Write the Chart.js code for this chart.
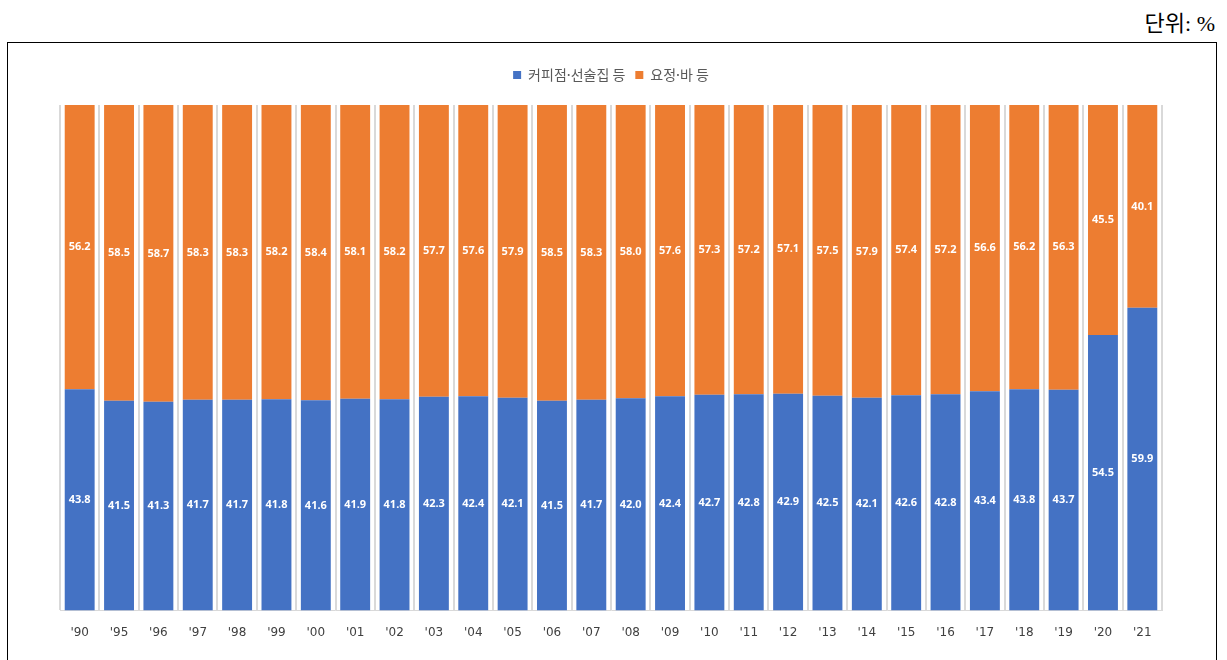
<!DOCTYPE html>
<html lang="ko">
<head>
<meta charset="utf-8">
<script src="https://cdn.jsdelivr.net/npm/chart.js@4/dist/chart.umd.min.js"></script>
<style>
  html, body { margin: 0; padding: 0; background: #fff; overflow: hidden; }
  #unit {
    position: absolute; right: 12px; top: 5px;
    font-family: "Liberation Serif", "Noto Sans CJK KR", serif;
    font-size: 22px; color: #000;
  }
  #frame {
    position: absolute; left: 7px; top: 42px; width: 1208px; height: 640px;
    border: 1px solid #000;
  }
  #wrap { position: absolute; left: 0; top: 0; width: 1227px; height: 660px; }
</style>
</head>
<body>
<div id="unit">단위: %</div>
<div id="frame"></div>
<div id="wrap"><canvas id="chart"></canvas></div>
<script>
const years = ["'90", "'95", "'96", "'97", "'98", "'99", "'00", "'01", "'02", "'03", "'04", "'05", "'06", "'07",
    "'08", "'09", "'10", "'11", "'12", "'13", "'14", "'15", "'16", "'17", "'18", "'19", "'20", "'21"];
const seriesNames = ["커피점·선술집 등", "요정·바 등"];
const cafeShare = [43.8, 41.5, 41.3, 41.7, 41.7, 41.8, 41.6, 41.9, 41.8, 42.3, 42.4, 42.1, 41.5, 41.7,
    42.0, 42.4, 42.7, 42.8, 42.9, 42.5, 42.1, 42.6, 42.8, 43.4, 43.8, 43.7, 54.5, 59.9];
const barShare = [56.2, 58.5, 58.7, 58.3, 58.3, 58.2, 58.4, 58.1, 58.2, 57.7, 57.6, 57.9, 58.5, 58.3,
    58.0, 57.6, 57.3, 57.2, 57.1, 57.5, 57.9, 57.4, 57.2, 56.6, 56.2, 56.3, 45.5, 40.1];

// white value text in the middle of each segment
const segmentLabels = {
    id: 'segmentLabels',
    afterDatasetsDraw(chart) {
        const ctx = chart.ctx;
        ctx.save();
        ctx.fillStyle = '#ffffff';
        ctx.font = 'bold 11px "Noto Sans", "DejaVu Sans", sans-serif';
        ctx.textAlign = 'center';
        ctx.textBaseline = 'middle';
        chart.data.datasets.forEach((ds, i) => {
            chart.getDatasetMeta(i).data.forEach((bar, j) => {
                ctx.fillText(ds.data[j].toFixed(1), bar.x, (bar.y + bar.base) / 2);
            });
        });
        ctx.restore();
    }
};

// a bit more room under the legend
const legendGap = {
    id: 'legendGap',
    beforeInit(chart) {
        const fit = chart.legend.fit;
        chart.legend.fit = function () {
            fit.bind(chart.legend)();
            this.height += 13;
        };
    }
};

new Chart(document.getElementById('chart'), {
    type: 'bar',
    data: {
        labels: years,
        datasets: [
            { label: seriesNames[0], data: cafeShare, backgroundColor: '#4472c4' },
            { label: seriesNames[1], data: barShare, backgroundColor: '#ed7d31' }
        ]
    },
    options: {
        responsive: true,
        maintainAspectRatio: false,
        animation: false,
        layout: { padding: { left: 60, right: 65, top: 58, bottom: 5 } },
        datasets: { bar: { barPercentage: 0.76, categoryPercentage: 1 } },
        scales: {
            x: {
                stacked: true,
                grid: { color: '#d9d9d9', lineWidth: 2, drawTicks: false },
                border: { color: '#d9d9d9', width: 1 },
                ticks: {
                    color: '#404040',
                    padding: 15,
                    font: { family: '"DejaVu Sans", sans-serif', size: 12 }
                }
            },
            y: { stacked: true, display: false, min: 0, max: 100 }
        },
        plugins: {
            legend: {
                labels: {
                    boxWidth: 8, boxHeight: 8, padding: 10, color: '#595959',
                    font: { family: '"Noto Sans CJK KR", sans-serif', size: 14 }
                }
            },
            tooltip: { enabled: false }
        }
    },
    plugins: [segmentLabels, legendGap]
});
</script>
</body>
</html>
